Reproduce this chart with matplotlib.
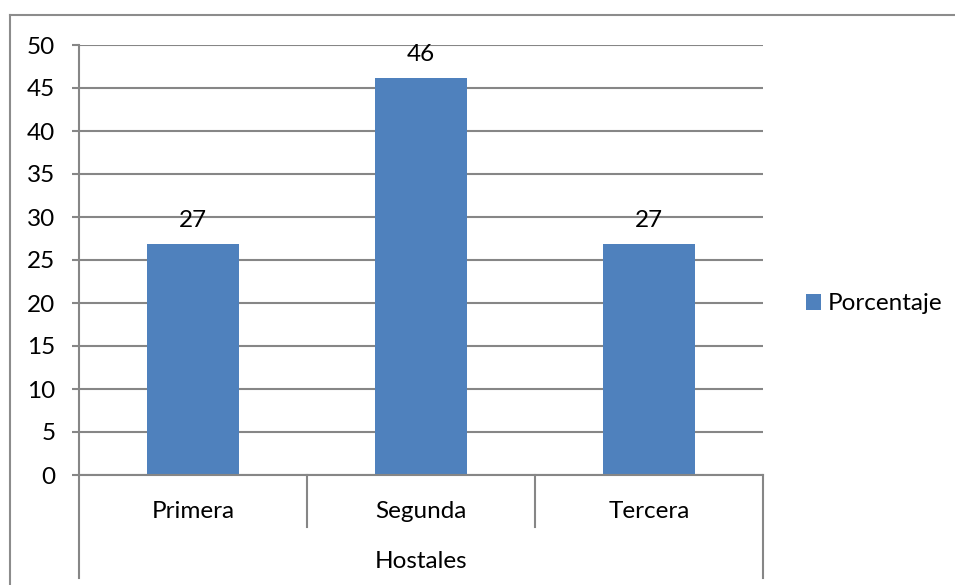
import matplotlib
matplotlib.use("Agg")
import matplotlib.pyplot as plt
from matplotlib.lines import Line2D

categories = ["Primera", "Segunda", "Tercera"]
values = [26.9, 46.2, 26.9]
series_name = "Porcentaje"
group_label = "Hostales"
yticks = [0, 5, 10, 15, 20, 25, 30, 35, 40, 45, 50]

plt.rcParams['font.family'] = ['Lato', 'DejaVu Sans']
FS = 17.5
GRID = "#868686"
BAR = "#4f81bd"

W, H = 955, 585
fig = plt.figure(figsize=(W / 100, H / 100), dpi=100)
L, R, T, B = 79, 763, 45, 475
ax = fig.add_axes([L / W, 1 - B / H, (R - L) / W, (B - T) / H])

x = list(range(len(categories)))
bars = ax.bar(x, values, width=0.4, color=BAR, zorder=3, label=series_name)
ax.set_xlim(-0.5, len(categories) - 0.5)
ax.set_ylim(0, 50)
ax.set_yticks(yticks)
ax.set_yticklabels([str(v) for v in yticks], fontsize=FS)
ax.yaxis.grid(True, color=GRID, linewidth=1.5, zorder=0)
ax.tick_params(axis='y', length=5, width=1.5, color=GRID, pad=12)
ax.set_xticks([])
for s in ["top", "right", "bottom", "left"]:
    ax.spines[s].set_visible(False)

for xi, v in zip(x, values):
    ax.annotate(f"{v:.0f}", (xi, v), xytext=(0, 9), textcoords="offset points",
                ha="center", va="bottom", fontsize=FS, zorder=5)

trans = ax.get_xaxis_transform()
deep = -(578 - B) / (B - T)
shallow = -(527 - B) / (B - T)
ax.add_line(Line2D([-0.5, -0.5], [1, deep], transform=trans, color=GRID, lw=1.5, clip_on=False))
ax.add_line(Line2D([2.5, 2.5], [0, deep], transform=trans, color=GRID, lw=1.5, clip_on=False))
for b in [0.5, 1.5]:
    ax.add_line(Line2D([b, b], [0, shallow], transform=trans, color=GRID, lw=1.5, clip_on=False))
ax.add_line(Line2D([-0.5, 2.5], [0, 0], transform=trans, color=GRID, lw=1.5, clip_on=False, zorder=4))

for xi, c in zip(x, categories):
    ax.text(xi, -(511 - B) / (B - T), c, transform=trans, ha="center", va="center", fontsize=FS)
ax.text(1, -(562 - B) / (B - T), group_label, transform=trans, ha="center", va="center", fontsize=FS)

leg = ax.legend(loc="center left", bbox_to_anchor=(806 / W, 1 - 304 / H), bbox_transform=fig.transFigure,
                frameon=False, fontsize=FS, handlelength=0.6, handleheight=0.6, handletextpad=0.3,
                borderpad=0, borderaxespad=0)

fig.add_artist(Line2D([10 / W, 1], [1 - 15 / H, 1 - 15 / H], transform=fig.transFigure, color="#8c8c8c", lw=1.5))
fig.add_artist(Line2D([10 / W, 10 / W], [0, 1 - 15 / H], transform=fig.transFigure, color="#8c8c8c", lw=1.5))

fig.savefig("out.png", dpi=100)
